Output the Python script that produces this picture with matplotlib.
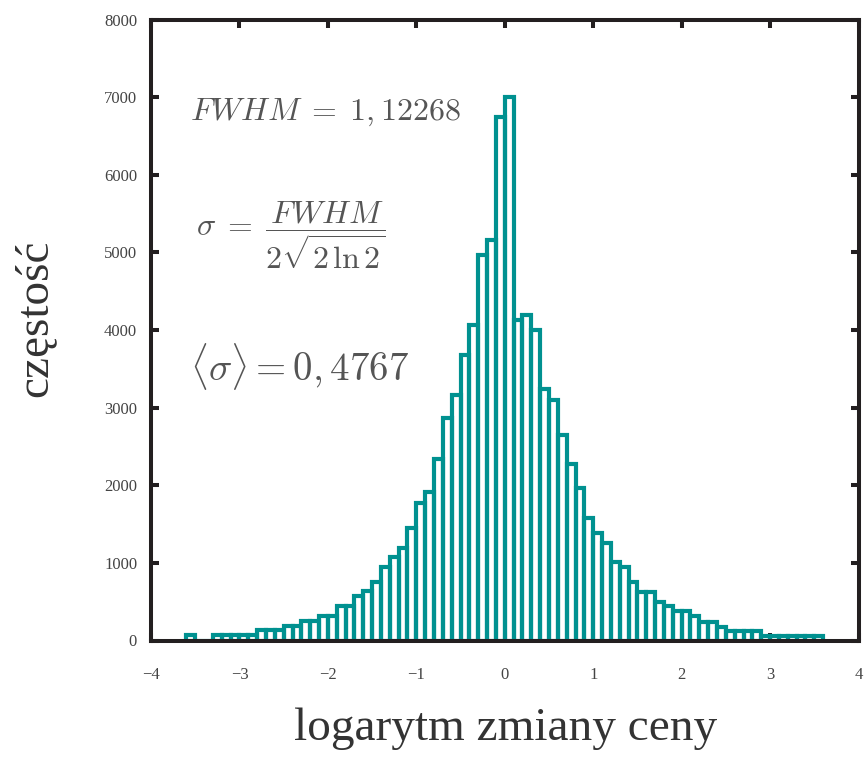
import numpy as np
import matplotlib
matplotlib.use("Agg")
import matplotlib.pyplot as plt

plt.rcParams['font.family'] = ['Liberation Serif', 'DejaVu Serif']
plt.rcParams['mathtext.fontset'] = 'cm'

# ---- data ----
bin_start = -3.6
bin_width = 0.1
counts = [
    71, 0, 0, 71, 71, 71, 71, 71, 131, 131,
    131, 187, 187, 247, 247, 312, 312, 440, 440, 569,
    634, 760, 949, 1075, 1189, 1443, 1768, 1908, 2343, 2865,
    3167, 3684, 4062, 4962, 5154, 6747,
    7001, 4133, 4196, 3995, 3238, 3100, 2650, 2270, 1960, 1580,
    1390, 1255, 1015, 950, 760, 630, 630, 500, 440, 375,
    375, 310, 240, 240, 180, 128, 128, 128, 128, 62,
    62, 62, 62, 62, 62, 62,
]
x_ticks = [-4, -3, -2, -1, 0, 1, 2, 3, 4]
y_ticks = [0, 1000, 2000, 3000, 4000, 5000, 6000, 7000, 8000]
xlabel = "logarytm zmiany ceny"
ylabel = "częstość"
txt_fwhm = r"$FWHM \;=\; 1,12268$"
txt_sigma = r"$\sigma \;=\; \dfrac{FWHM}{2\sqrt{2\,\ln 2}}$"
txt_mean = r"$\langle\sigma\rangle = 0,4767$"

bin_left = np.round(bin_start + bin_width * np.arange(len(counts)), 2)

teal = '#009190'
W, H = 865, 757
fig = plt.figure(figsize=(W / 100, H / 100), dpi=100)
ax = fig.add_axes([151 / W, 1 - 640.5 / H, (858.5 - 151) / W, (640.5 - 19.5) / H])

ax.bar(bin_left, counts, width=bin_width, align='edge', fill=False,
       edgecolor=teal, linewidth=3.0, zorder=2)

ax.set_xlim(-4, 4)
ax.set_ylim(0, 8000)
ax.set_xticks(x_ticks)
ax.set_yticks(y_ticks)
ax.set_xticklabels([f"{v}".replace('-', '\u2212') for v in x_ticks])
ax.set_yticklabels([str(v) for v in y_ticks])

for s in ax.spines.values():
    s.set_linewidth(2.9)
    s.set_color('#231f20')
    s.set_zorder(3)

ax.tick_params(axis='both', direction='in', length=6, width=2.9,
               top=True, right=True, colors='#231f20', labelcolor='#444444',
               labelsize=12)
ax.tick_params(axis='x', pad=19)
ax.tick_params(axis='y', pad=10)

tc = '#555555'
fig.text(190 / W, 1 - 112 / H, txt_fwhm, fontsize=23, color=tc, ha='left', va='center')
fig.text(196 / W, 1 - 236 / H, txt_sigma, fontsize=23, color=tc, ha='left', va='center')
fig.text(190 / W, 1 - 367 / H, txt_mean, fontsize=28, color=tc, ha='left', va='center')

fig.text(35 / W, 1 - 318 / H, ylabel, fontsize=34, color='#333333',
         rotation=90, ha='center', va='center')
fig.text(506 / W, 1 - 740 / H, xlabel, fontsize=34, color='#333333',
         ha='center', va='baseline')

fig.savefig('out.png', dpi=100)
